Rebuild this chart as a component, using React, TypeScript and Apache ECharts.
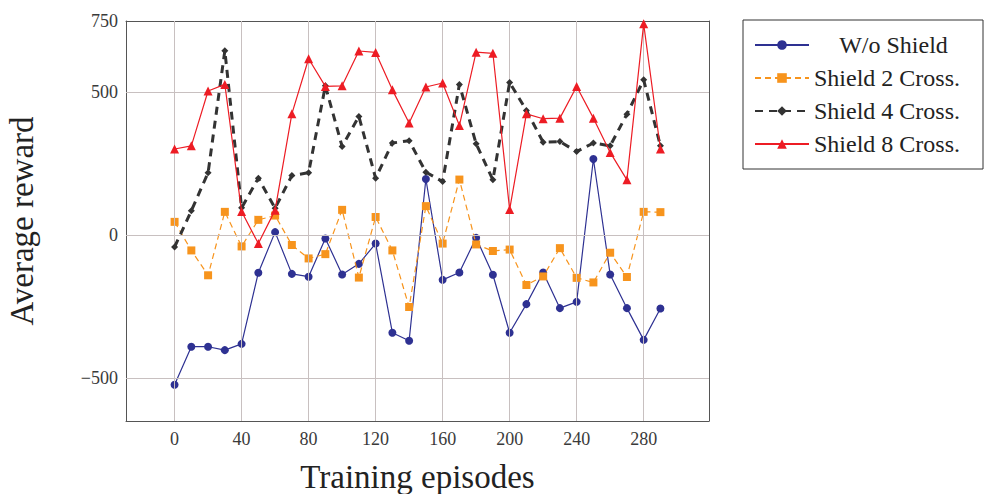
import React, { useEffect, useRef } from "react";
import * as echarts from "echarts";

const episodes = [0, 10, 20, 30, 40, 50, 60, 70, 80, 90, 100, 110, 120, 130, 140, 150, 160, 170, 180, 190, 200, 210, 220, 230, 240, 250, 260, 270, 280, 290];
const noShield = [-523, -390, -390, -402, -380, -131, 11, -135, -145, -11, -137, -100, -29, -341, -369, 197, -156, -130, -9, -138, -341, -241, -130, -255, -233, 267, -137, -255, -366, -256];
const shield2 = [47, -53, -140, 82, -39, 54, 69, -34, -81, -66, 89, -148, 64, -53, -251, 102, -29, 195, -32, -55, -50, -174, -144, -45, -149, -165, -61, -146, 82, 81];
const shield4 = [-41, 86, 219, 646, 96, 200, 95, 209, 219, 523, 311, 416, 200, 323, 331, 221, 188, 528, 320, 194, 535, 437, 326, 328, 293, 323, 313, 424, 544, 313];
const shield8 = [302, 313, 505, 528, 83, -29, 88, 425, 618, 521, 523, 645, 640, 509, 393, 519, 533, 384, 641, 637, 90, 425, 408, 410, 521, 410, 290, 194, 740, 302];

const seriesNames = ["W/o Shield", "Shield 2 Cross.", "Shield 4 Cross.", "Shield 8 Cross."];
const xTicks = [0, 40, 80, 120, 160, 200, 240, 280];
const yTickLabels = [-500, 0, 500, 750];
const yGrid = [-500, 0, 500];

const FONT = "Liberation Serif";

export default function App() {
  const ref = useRef<HTMLDivElement>(null);
  useEffect(() => {
    if (!ref.current) return;
    const chart = echarts.init(ref.current, null, { renderer: "svg" });
    const pair = (ys: number[]) => episodes.map((x, i) => [x, ys[i]]);
    const tickStyle = { color: "#7a7070", width: 1 };
    const axisLine = { show: true, onZero: false, lineStyle: { color: "#555555", width: 1 } };
    const legendText = { fontFamily: FONT, fontSize: 24, color: "#222222", lineHeight: 22 };
    chart.setOption({
      animation: false,
      backgroundColor: "#ffffff",
      grid: { left: 126, top: 21, width: 583, height: 400, containLabel: false, outerBoundsMode: "none" },
      legend: {
        data: seriesNames,
        orient: "vertical",
        left: 743,
        top: 20,
        padding: [13, 10, 13, 11],
        borderColor: "#333333",
        borderWidth: 1,
        itemWidth: 54,
        itemHeight: 12,
        itemGap: 9,
        formatter: (name: string) => (name === seriesNames[0] ? `{c|${name}}` : `{l|${name}}`),
        textStyle: {
          ...legendText,
          rich: {
            c: { ...legendText, width: 159, align: "center" },
            l: { ...legendText, width: 159, align: "left" },
          },
        },
      },
      xAxis: [
        {
          type: "value",
          min: -29,
          max: 319,
          name: "Training episodes",
          nameLocation: "middle",
          nameGap: 39,
          nameTextStyle: { fontFamily: FONT, fontSize: 33, color: "#222222" },
          axisLine,
          axisTick: { show: true, inside: true, length: 6, customValues: xTicks, lineStyle: tickStyle },
          axisLabel: { customValues: xTicks, fontFamily: FONT, fontSize: 18, color: "#3a3a3a", margin: 9 },
          splitLine: { show: false },
        },
        {
          type: "value",
          position: "top",
          min: -29,
          max: 319,
          axisLine,
          axisTick: { show: true, inside: true, length: 6, customValues: xTicks, lineStyle: tickStyle },
          axisLabel: { show: false },
          splitLine: { show: false },
        },
      ],
      yAxis: [
        {
          type: "value",
          min: -650,
          max: 750,
          name: "Average reward",
          nameLocation: "middle",
          nameGap: 88,
          nameTextStyle: { fontFamily: FONT, fontSize: 33, color: "#222222" },
          axisLine,
          axisTick: { show: true, inside: true, length: 6, customValues: yGrid, lineStyle: tickStyle },
          axisLabel: {
            customValues: yTickLabels,
            fontFamily: FONT,
            fontSize: 18,
            color: "#3a3a3a",
            margin: 8,
            formatter: (v: number) => (v < 0 ? "\u2212" + Math.abs(v) : String(v)),
          },
          splitLine: { show: false },
        },
        {
          type: "value",
          position: "right",
          min: -650,
          max: 750,
          axisLine,
          axisTick: { show: true, inside: true, length: 6, customValues: yGrid, lineStyle: tickStyle },
          axisLabel: { show: false },
          splitLine: { show: false },
        },
      ],
      series: [
        {
          name: "grid",
          type: "line",
          data: [],
          silent: true,
          z: 1,
          markLine: {
            silent: true,
            symbol: ["none", "none"],
            label: { show: false },
            lineStyle: { color: "#c8c0c0", width: 1, type: "solid" },
            data: [...xTicks.map((x) => ({ xAxis: x })), ...yGrid.map((y) => ({ yAxis: y }))],
          },
        },
        {
          name: seriesNames[0],
          type: "line",
          data: pair(noShield),
          z: 3,
          color: "#2e3192",
          symbol: "circle",
          symbolSize: 8,
          lineStyle: { color: "#2e3192", width: 1.2 },
          itemStyle: { color: "#2e3192" },
        },
        {
          name: seriesNames[1],
          type: "line",
          data: pair(shield2),
          z: 4,
          color: "#f7941d",
          symbol: "rect",
          symbolSize: 8,
          lineStyle: { color: "#f7941d", width: 1.2, type: [6, 4] },
          itemStyle: { color: "#f7941d" },
        },
        {
          name: seriesNames[2],
          type: "line",
          data: pair(shield4),
          z: 5,
          color: "#333333",
          symbol: "diamond",
          symbolSize: 7,
          lineStyle: { color: "#333333", width: 3, type: [8, 6] },
          itemStyle: { color: "#333333" },
        },
        {
          name: seriesNames[3],
          type: "line",
          data: pair(shield8),
          z: 6,
          color: "#ed1c24",
          symbol: "triangle",
          symbolSize: 9,
          lineStyle: { color: "#ed1c24", width: 1.2 },
          itemStyle: { color: "#ed1c24" },
        },
      ],
    });
    return () => chart.dispose();
  }, []);
  return <div ref={ref} style={{ position: "absolute", left: 0, top: 0, width: 986, height: 494 }} />;
}
